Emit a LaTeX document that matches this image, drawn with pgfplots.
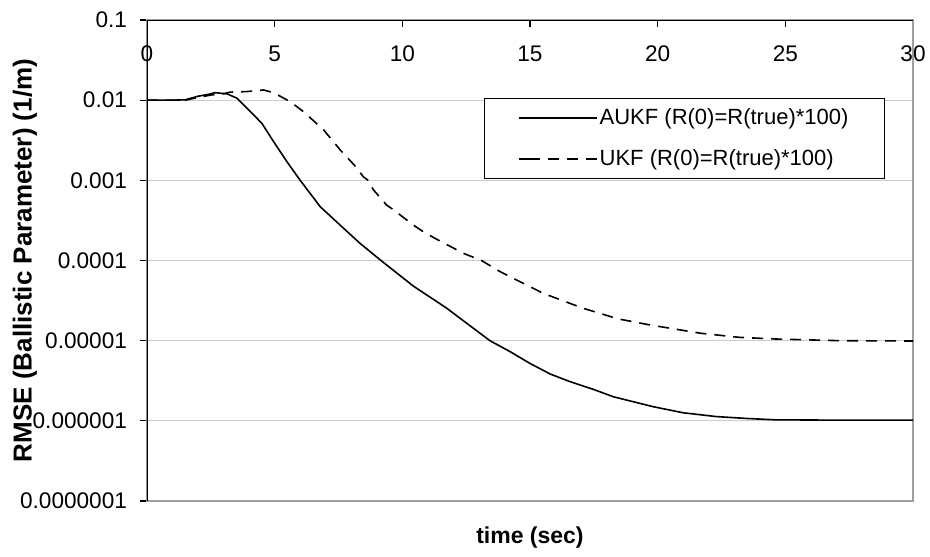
\documentclass[border=0pt]{standalone}
\usepackage{fontspec}
\setmainfont{Liberation Sans}
\usepackage{pgfplots}
\pgfplotsset{compat=1.18}
\pgfplotstableread{
x y
0 0.0100
1.0 0.0100
1.5 0.0101
2.0 0.0112
2.4 0.0118
2.66 0.0124
3.13 0.0120
3.52 0.0106
3.92 0.00792
4.5 0.00514
4.96 0.00303
5.48 0.00171
6.0 0.00100
6.53 0.00060
6.78 0.00047
7.56 0.000277
8.34 0.000164
9.13 0.000102
10.43 0.000048
11.74 0.0000254
12.52 0.0000165
13.43 0.0000100
14.22 0.0000073
15.0 0.0000052
15.79 0.00000384
16.57 0.00000308
17.48 0.00000247
18.26 0.00000200
19.83 0.00000150
21.0 0.00000126
22.3 0.00000113
23.5 0.00000107
24.6 0.00000103
27.0 0.00000102
30.0 0.00000102
}\aukf
\pgfplotstableread{
x y
0 0.0100
1.5 0.0100
2.0 0.0108
2.5 0.0116
3.0 0.0120
3.25 0.0126
3.9 0.0128
4.57 0.0134
4.96 0.0124
5.61 0.00957
6.13 0.00718
6.92 0.00425
7.57 0.00239
8.15 0.00151
8.47 0.00111
8.66 0.00100
8.87 0.00076
9.39 0.00049
9.65 0.00043
10.43 0.000277
10.82 0.000229
11.28 0.000189
12.39 0.000123
13.1 0.000100
13.83 0.0000726
15.52 0.0000389
17.09 0.0000253
18.45 0.0000187
19.7 0.0000157
21.66 0.0000124
23.2 0.0000110
24.6 0.0000105
27.1 0.0000100
30.0 0.0000099
}\ukf
\begin{document}
\begin{tikzpicture}
\begin{axis}[
  scale only axis, width=383pt, height=240.5pt,
  xmin=0, xmax=30, ymode=log, ymin=1e-7, ymax=0.1,
  xtick={0,5,10,15,20,25,30},
  xticklabels={0,5,10,15,20,25,30},
  ytick={1e-7,1e-6,1e-5,1e-4,1e-3,1e-2,1e-1},
  yticklabels={0.0000001,0.000001,0.00001,0.0001,0.001,0.01,0.1},
  yminorticks=false,
  xtick pos=upper, ytick pos=left,
  xticklabel pos=upper,
  tick align=outside,
  major tick length=3.5pt,
  xtick style={yshift=-3.5pt, black, line width=0.6pt},
  ytick style={black, line width=0.6pt},
  xticklabel style={anchor=base, yshift=-24pt},
  yticklabel style={xshift=-3pt},
  tick label style={font=\fontsize{11.3pt}{13pt}\selectfont},
  ymajorgrids, grid style={gray!40, line width=0.5pt},
  axis line style={gray!75, line width=0.6pt},
  xlabel={\bfseries time (sec)},
  ylabel={\bfseries RMSE (Ballistic Parameter) (1/m)},
  xlabel style={at={(rel axis cs:0.5,-0.0769)}, anchor=center, font=\fontsize{11.5pt}{13pt}\selectfont},
  ylabel style={at={(rel axis cs:-0.1593,0.5)}, anchor=center, font=\fontsize{13pt}{15pt}\selectfont},
  legend style={at={(rel axis cs:0.9634,0.838)}, anchor=north east,
    draw=black, line width=0.5pt, fill=white,
    font=\fontsize{11pt}{13pt}\selectfont,
    inner xsep=17pt, inner ysep=4pt, row sep=9pt,
    nodes={inner sep=1pt}},
  legend cell align=left,
  legend image code/.code={\path (-5pt,0pt) -- (0pt,0pt); \draw[#1] (0pt,0pt) -- (34pt,0pt);},
]
\addplot[black, line width=0.8pt] table[x=x,y=y] {\aukf};
\addlegendentry{AUKF (R(0)=R(true)*100)}
\addplot[black, line width=0.8pt, dash pattern=on 5.5pt off 4pt] table[x=x,y=y] {\ukf};
\addlegendentry{UKF (R(0)=R(true)*100)}
\draw[black, line width=0.7pt] (rel axis cs:0,0) -- (rel axis cs:0,1) -- (rel axis cs:1,1);
\end{axis}
\pgfresetboundingbox
\path ([shift={(-73.5pt,-27.5pt)}]current axis.south west) rectangle ([shift={(8.5pt,10pt)}]current axis.north east);
\end{tikzpicture}
\end{document}
